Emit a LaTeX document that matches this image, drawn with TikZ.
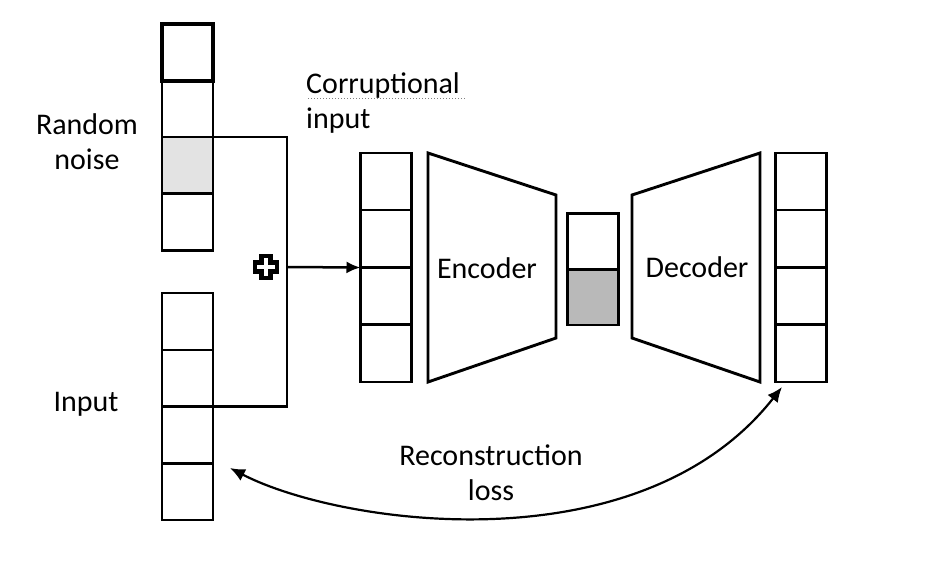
\documentclass[tikz,border=0pt]{standalone}
\usepackage{fontspec}
\setmainfont{Carlito}
\usetikzlibrary{arrows.meta}
\tikzset{
  cell/.style={draw, rectangle, line width=2.9pt, minimum width=51pt, minimum height=57pt, inner sep=0pt, outer sep=0pt},
  lbl/.style={font=\fontsize{30}{35}\selectfont, align=center, inner sep=0pt},
  wire/.style={line width=2.5pt},
  coder/.style={draw, line width=2.9pt, line join=miter},
}
\begin{document}
\begin{tikzpicture}[x=1pt,y=-1pt]
\useasboundingbox (0,0) rectangle (933,560);
% random noise vector
\node[cell, line width=4pt] (n1) at (187.5,52) {};
\node[cell] (n2) at (187.5,108.5) {};
\node[cell, fill=gray!22] (n3) at (187.5,165.5) {};
\node[cell] (n4) at (187.5,222) {};
% input vector
\node[cell] (i1) at (187.5,321.5) {};
\node[cell] (i2) at (187.5,378.5) {};
\node[cell] (i3) at (187.5,435) {};
\node[cell] (i4) at (187.5,491.5) {};
% corruptional input vector
\node[cell] (c1) at (386,181.5) {};
\node[cell] (c2) at (386,238.5) {};
\node[cell] (c3) at (386,296) {};
\node[cell] (c4) at (386,353.5) {};
% output vector
\node[cell] (o1) at (801,181.5) {};
\node[cell] (o2) at (801,238.5) {};
\node[cell] (o3) at (801,296) {};
\node[cell] (o4) at (801,353.5) {};
% latent
\node[cell, minimum height=56pt] (z1) at (593,241.5) {};
\node[cell, minimum height=55pt, fill=gray!55] (z2) at (593,297.5) {};
% encoder / decoder
\draw[coder] (428,153) -- (556,195) -- (556,338) -- (428,382) -- cycle;
\draw[coder] (632,195) -- (760,153) -- (760,382) -- (632,338) -- cycle;
\node[lbl] (enc) at (487,268) {Encoder};
\node[lbl] (dec) at (697,267) {Decoder};
% noise + input combination
\coordinate (j) at (287,267);
\draw[wire] (n3.north east) -| (j) |- (i3.north east);
\draw[wire, -{Latex[length=14pt,width=12pt]}] (j) -- (c3.north west);
% plus sign
\coordinate (plus) at (266,267);
\draw[line width=4.8pt, fill=white, line join=miter]
  (plus) ++(-4.5,-11) -- ++(9,0) -- ++(0,6.5) -- ++(6.5,0) -- ++(0,9) -- ++(-6.5,0) -- ++(0,6.5) -- ++(-9,0) -- ++(0,-6.5) -- ++(-6.5,0) -- ++(0,-9) -- ++(6.5,0) -- cycle;
% labels
\node[lbl] (rn) at (87,142) {Random\\noise};
\node[lbl] (inp) at (86,404) {Input};
\node[lbl, align=left, anchor=base west] (ci) at (306,128) {Corruptional\\input};
\draw[gray, dotted, line width=1pt] (308,98) -- (465,98);
\node[lbl] (rl) at (491,473) {Reconstruction\\loss};
% reconstruction loss curve
\coordinate (la) at (230,468);
\coordinate (ra) at (782,387);
\draw[line width=2.2pt, {Latex[length=15pt,width=13pt]}-{Latex[length=15pt,width=13pt]}]
  (la) .. controls (340,525) and (640,568) .. (ra);
\end{tikzpicture}
\end{document}
